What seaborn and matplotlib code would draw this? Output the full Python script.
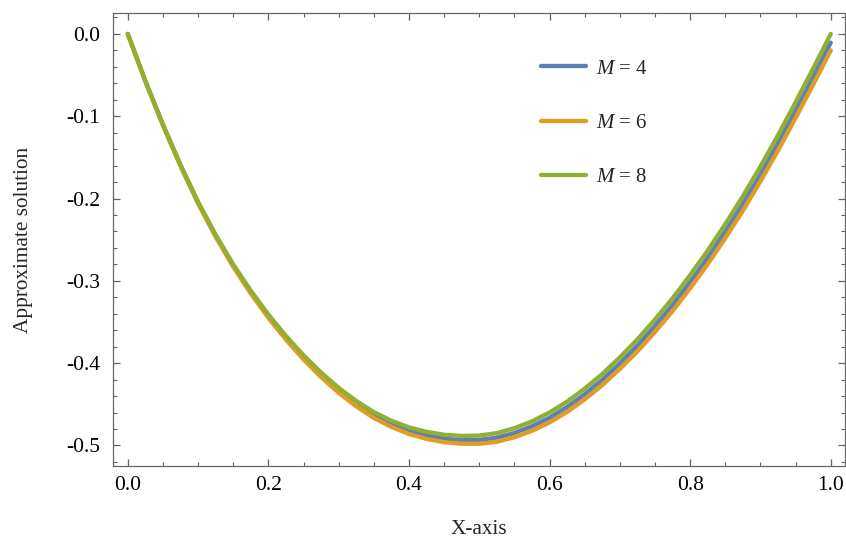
import numpy as np
import pandas as pd
import matplotlib
matplotlib.use("Agg")
import matplotlib.pyplot as plt
import seaborn as sns
from matplotlib.ticker import MultipleLocator, FormatStrFormatter

# Data (x step 0.025)
x_vals = [0.0, 0.025, 0.05, 0.075, 0.1, 0.125, 0.15, 0.175, 0.2, 0.225,
          0.25, 0.275, 0.3, 0.325, 0.35, 0.375, 0.4, 0.425, 0.45, 0.475,
          0.5, 0.525, 0.55, 0.575, 0.6, 0.625, 0.65, 0.675, 0.7, 0.725,
          0.75, 0.775, 0.8, 0.825, 0.85, 0.875, 0.9, 0.925, 0.95, 0.975, 1.0]
m4_vals = [0.0, -0.0573, -0.1105, -0.1598, -0.2051, -0.2453, -0.2816, -0.3138, -0.3431, -0.3694,
           -0.3931, -0.4144, -0.4332, -0.4494, -0.4632, -0.4739, -0.4822, -0.4880, -0.4917, -0.4935,
           -0.4933, -0.4905, -0.4848, -0.4767, -0.4663, -0.4533, -0.4378, -0.4203, -0.4004, -0.3788,
           -0.3549, -0.3293, -0.3014, -0.2719, -0.2399, -0.2064, -0.1705, -0.1327, -0.0930, -0.0522, -0.0105]
m6_vals = [0.0, -0.0575, -0.1110, -0.1605, -0.2060, -0.2465, -0.2830, -0.3155, -0.3450, -0.3715,
           -0.3955, -0.4170, -0.4360, -0.4525, -0.4665, -0.4775, -0.4860, -0.4920, -0.4960, -0.4980,
           -0.4980, -0.4955, -0.4900, -0.4822, -0.4720, -0.4592, -0.4440, -0.4267, -0.4070, -0.3857,
           -0.3620, -0.3367, -0.3090, -0.2797, -0.2480, -0.2147, -0.1790, -0.1415, -0.1020, -0.0615, -0.0200]
m8_vals = [0.0, -0.0570, -0.1100, -0.1590, -0.2040, -0.2440, -0.2800, -0.3120, -0.3410, -0.3670,
           -0.3905, -0.4115, -0.4300, -0.4460, -0.4595, -0.4700, -0.4780, -0.4835, -0.4870, -0.4885,
           -0.4880, -0.4850, -0.4790, -0.4707, -0.4600, -0.4467, -0.4310, -0.4132, -0.3930, -0.3712,
           -0.3470, -0.3212, -0.2930, -0.2632, -0.2310, -0.1972, -0.1610, -0.1230, -0.0830, -0.0420, 0.0]
labels = ["$M$ = 4", "$M$ = 6", "$M$ = 8"]
colors = ["#5E81B5", "#E19C24", "#8FB032"]

# long table for seaborn
df = pd.concat([
    pd.DataFrame({"x": x_vals, "y": vals, "M": lab})
    for vals, lab in zip([m4_vals, m6_vals, m8_vals], labels)
])

sns.set_theme(style="ticks")
plt.rcParams["font.family"] = ["Liberation Serif", "DejaVu Serif"]
plt.rcParams["mathtext.fontset"] = "custom"
plt.rcParams["mathtext.rm"] = "Liberation Serif"
plt.rcParams["mathtext.it"] = "Liberation Serif:italic"
plt.rcParams["axes.unicode_minus"] = False

fig = plt.figure(figsize=(8.46, 5.40), dpi=100)
ax = fig.add_axes([0.1336, 0.137, 0.8650, 0.839])

sns.lineplot(data=df, x="x", y="y", hue="M", palette=colors, linewidth=3.1,
             ax=ax, sort=False, estimator=None)

ax.set_xlim(-0.021, 1.02)
ax.set_ylim(-0.525, 0.0255)

ax.xaxis.set_major_locator(MultipleLocator(0.2))
ax.xaxis.set_minor_locator(MultipleLocator(0.05))
ax.yaxis.set_major_locator(MultipleLocator(0.1))
ax.yaxis.set_minor_locator(MultipleLocator(0.02))
ax.xaxis.set_major_formatter(FormatStrFormatter("%.1f"))
ax.yaxis.set_major_formatter(FormatStrFormatter("%.1f"))

ax.tick_params(which="both", direction="in", top=True, right=True, color="#666666")
ax.tick_params(which="major", length=5, width=0.9, labelsize=15.5, labelcolor="black")
ax.tick_params(axis="y", which="major", pad=9)
ax.tick_params(axis="x", which="major", pad=7)
ax.tick_params(which="minor", length=3.2, width=0.8)
for sp in ax.spines.values():
    sp.set_color("#666666")
    sp.set_linewidth(0.9)

ax.set_xlabel("X-axis", fontsize=15.3, labelpad=18)
ax.set_ylabel("Approximate solution", fontsize=15.3, labelpad=24)

ax.legend(loc="center left", bbox_to_anchor=(0.585, 0.757), frameon=False,
          fontsize=15, handlelength=2.16, labelspacing=1.66, handletextpad=0.48,
          borderpad=0, borderaxespad=0, title=None)

fig.savefig("out.png", dpi=100)
